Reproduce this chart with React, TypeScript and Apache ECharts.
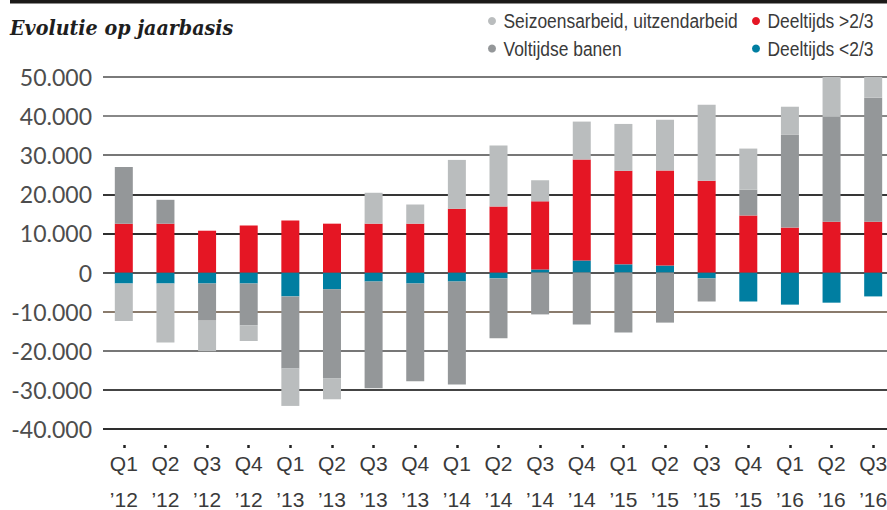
import React, { useEffect, useRef } from "react";
import * as echarts from "echarts";

const categories = [
  "Q1\n’12", "Q2\n’12", "Q3\n’12", "Q4\n’12",
  "Q1\n’13", "Q2\n’13", "Q3\n’13", "Q4\n’13",
  "Q1\n’14", "Q2\n’14", "Q3\n’14", "Q4\n’14",
  "Q1\n’15", "Q2\n’15", "Q3\n’15", "Q4\n’15",
  "Q1\n’16", "Q2\n’16", "Q3\n’16",
];

const deeltijdsKlein = [-2800, -2800, -2800, -2800, -6100, -4300, -2300, -2800, -2300, -1500, 800, 3100, 2100, 1800, -1500, -7400, -8200, -7700, -6100];
const deeltijdsGroot = [12500, 12500, 10700, 12000, 13300, 12500, 12500, 12500, 16300, 16900, 17400, 25800, 23900, 24300, 23500, 14600, 11500, 13000, 13000];
const voltijds = [14500, 6100, -9500, -10700, -18400, -22700, -27300, -25000, -26300, -15300, -10700, -13300, -15300, -12800, -5900, 6600, 23700, 26800, 31700];
const seizoens = [-9600, -15100, -7800, -4000, -9600, -5400, 7900, 4900, 12500, 15600, 5400, 9700, 12000, 13000, 19400, 10500, 7200, 10200, 5300];

const names = {
  seizoens: "Seizoensarbeid, uitzendarbeid",
  voltijds: "Voltijdse banen",
  groot: "Deeltijds >2/3",
  klein: "Deeltijds <2/3",
};

const colors = {
  seizoens: "#babdbe",
  voltijds: "#949799",
  groot: "#e51624",
  klein: "#007ea1",
};

const fmt = (v: number) => String(v).replace(/\B(?=(\d{3})+(?!\d))/g, ".");

const legendItem = (cx: number, cy: number, label: string, color: string) => [
  { type: "circle", shape: { cx, cy, r: 4 }, style: { fill: color } },
  {
    type: "text",
    x: cx + 11.5,
    y: cy,
    scaleX: 0.83,
    style: {
      text: label,
      font: "21px 'Liberation Sans', Arial, sans-serif",
      fill: "#3a3a3a",
      textVerticalAlign: "middle",
    },
  },
];

export default function App() {
  const ref = useRef<HTMLDivElement>(null);
  useEffect(() => {
    if (!ref.current) return;
    const chart = echarts.init(ref.current, null, { renderer: "svg" });
    const bar = (name: string, data: number[], color: string) => ({
      name,
      type: "bar",
      stack: "total",
      data,
      barWidth: 18,
      itemStyle: { color },
      emphasis: { disabled: true },
    });
    chart.setOption({
      animation: false,
      backgroundColor: "#ffffff",
      graphic: [
        { type: "rect", shape: { x: 10, y: 0, width: 877, height: 3.5 }, style: { fill: "#1c1a18" } },
        {
          type: "text",
          x: 10,
          y: 27.5,
          scaleX: 0.91,
          style: {
            text: "Evolutie op jaarbasis",
            font: "italic bold 21px 'DejaVu Serif', serif",
            fill: "#1e1e1e",
            textVerticalAlign: "middle",
          },
        },
        ...legendItem(492, 21, names.seizoens, colors.seizoens),
        ...legendItem(492, 48.5, names.voltijds, colors.voltijds),
        ...legendItem(756, 21, names.groot, colors.groot),
        ...legendItem(756, 48.5, names.klein, colors.klein),
      ],
      grid: {
        left: 103,
        top: 77,
        width: 791,
        bottom: 81,
        containLabel: false,
        outerBoundsMode: "none",
      },
      xAxis: {
        type: "category",
        data: categories,
        position: "bottom",
        offset: 16,
        axisLine: { show: true, onZero: false, lineStyle: { color: "#ffffff", opacity: 0, width: 0 } },
        axisTick: { show: true, alignWithLabel: true, length: 3, lineStyle: { color: "#222", width: 2.5 } },
        axisLabel: {
          margin: 0,
          fontFamily: "'Liberation Sans', Arial, sans-serif",
          fontSize: 21,
          lineHeight: 36,
          color: "#3a3a3a",
          interval: 0,
        },
      },
      yAxis: {
        type: "value",
        min: -40000,
        max: 50000,
        interval: 10000,
        axisLine: { show: false },
        axisTick: { show: false },
        axisLabel: {
          margin: 11,
          fontFamily: "Lato, 'Open Sans', sans-serif",
          fontSize: 23,
          color: "#4d4d4d",
          formatter: (v: number) => fmt(v),
        },
        splitLine: {
          lineStyle: {
            width: 2,
            color: ["#2e2e2e", "#444", "#777", "#8a7b6c", "#555", "#2e2e2e", "#363636", "#777", "#888", "#7a7a7a"],
          },
        },
      },
      series: [
        bar(names.klein, deeltijdsKlein, colors.klein),
        bar(names.groot, deeltijdsGroot, colors.groot),
        bar(names.voltijds, voltijds, colors.voltijds),
        bar(names.seizoens, seizoens, colors.seizoens),
      ],
    });
    return () => chart.dispose();
  }, []);
  return (
    <div
      ref={ref}
      style={{ position: "fixed", left: 0, top: 0, width: 887, height: 510 }}
    />
  );
}
